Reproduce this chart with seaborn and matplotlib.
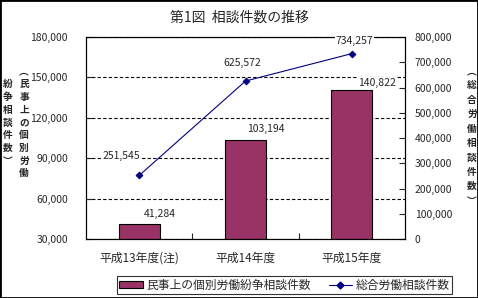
import matplotlib
matplotlib.use('Agg')
import matplotlib.pyplot as plt
from matplotlib.patches import Rectangle, Patch
from matplotlib.lines import Line2D
from matplotlib.ticker import FuncFormatter
import seaborn as sns

# data
years = ['平成13年度(注)', '平成14年度', '平成15年度']
disputes = [41284, 103194, 140822]      # 民事上の個別労働紛争相談件数 (left axis, bars)
totals = [251545, 625572, 734257]       # 総合労働相談件数 (right axis, line)
left_ticks = [30000, 60000, 90000, 120000, 150000, 180000]
right_ticks = [0, 100000, 200000, 300000, 400000, 500000, 600000, 700000, 800000]

title = '第1図  相談件数の推移'
bar_name = '民事上の個別労働紛争相談件数'
line_name = '総合労働相談件数'

# label offsets in points (as placed in the original)
bar_label_offsets = [(15, 7), (15, 8), (18, 5)]
line_label_offsets = [(-13, 14), (-2, 13), (2, 9)]

bar_color = '#993366'
line_color = '#000080'

sns.set_style('white')
plt.rcParams['font.family'] = ['Noto Sans CJK JP', 'DejaVu Sans']

W, H = 478, 298
fig = plt.figure(figsize=(W / 100, H / 100), dpi=100)
ax = fig.add_axes([86 / W, 1 - 239 / H, (405 - 86) / W, (239 - 37) / H])

sns.barplot(x=years, y=disputes, ax=ax, color=bar_color, saturation=1,
            edgecolor='black', linewidth=0.8, width=0.385, zorder=2)

ax2 = ax.twinx()
sns.pointplot(x=years, y=totals, ax=ax2, color=line_color, markers='D',
              linestyles='-', markersize=3.5, linewidth=0.8, errorbar=None)

ax.set_xlim(-0.5, len(years) - 0.5)
ax.set_ylim(left_ticks[0], left_ticks[-1])
ax2.set_ylim(right_ticks[0], right_ticks[-1])
ax.set_yticks(left_ticks)
ax2.set_yticks(right_ticks)
fmt = FuncFormatter(lambda v, p: f'{v:,.0f}')
ax.yaxis.set_major_formatter(fmt)
ax2.yaxis.set_major_formatter(fmt)
for a in (ax, ax2):
    a.set_xlabel('')
    a.set_ylabel('')
    for s in a.spines.values():
        s.set_visible(True)
        s.set_color('black')
        s.set_linewidth(0.8)

ax.set_axisbelow(True)
ax.yaxis.grid(True, linestyle=(0, (3, 2)), color='black', linewidth=0.8)
ax.xaxis.grid(False)
ax2.grid(False)

ax.tick_params(axis='y', left=True, direction='in', length=4, width=0.8,
               pad=13, labelsize=7.5)
ax2.tick_params(axis='y', right=True, left=False, direction='in', length=4,
                width=0.8, pad=7, labelsize=7.5)
ax.set_xticks([0.5, 1.5], minor=True)
ax.tick_params(axis='x', which='major', length=0, pad=9, labelsize=8.5)
ax.tick_params(axis='x', which='minor', bottom=True, direction='in',
               length=4, width=0.8)

# data labels
for i, v in enumerate(disputes):
    ax.annotate(f'{v:,}', (i, v), xytext=bar_label_offsets[i],
                textcoords='offset points', ha='center', va='center',
                fontsize=7.5,
                bbox=dict(facecolor='white', edgecolor='none', pad=0.3))
for i, v in enumerate(totals):
    ax2.annotate(f'{v:,}', (i, v), xytext=line_label_offsets[i],
                 textcoords='offset points', ha='center', va='center',
                 fontsize=7.5,
                 bbox=dict(facecolor='white', edgecolor='none', pad=0.3))

fig.text(0.5, 1 - 18 / H, title, ha='center', va='center', fontsize=10)

# vertical axis titles
left_col1 = '︵民事上の個別労働'
left_col2 = '紛争相談件数︶'
right_col = '︵総合労働相談件数︶'
vkw = dict(ha='center', va='top', fontsize=7, fontweight='bold')
fig.text(24 / W, 1 - 66 / H, '\n'.join(left_col1), linespacing=1.35, **vkw)
fig.text(8 / W, 1 - 79 / H, '\n'.join(left_col2), linespacing=1.35, **vkw)
fig.text(472 / W, 1 - 66 / H, '\n'.join(right_col), linespacing=1.55, **vkw)

handles = [Patch(facecolor=bar_color, edgecolor='black', linewidth=0.8),
           Line2D([], [], color=line_color, marker='D', markersize=3.5,
                  linewidth=0.8)]
leg = fig.legend(handles, [bar_name, line_name], ncol=2, loc='center',
                 bbox_to_anchor=(284.5 / W, 13 / H), fontsize=8.5,
                 frameon=True, fancybox=False, edgecolor='black',
                 handlelength=2.0, handleheight=0.5, handletextpad=0.3,
                 columnspacing=1.5, borderpad=0.2)
leg.get_frame().set_linewidth(0.8)

fig.add_artist(Rectangle((0, 0), 1, 1, transform=fig.transFigure,
                         fill=False, edgecolor='black', linewidth=2))

fig.savefig('out.png', dpi=100)
